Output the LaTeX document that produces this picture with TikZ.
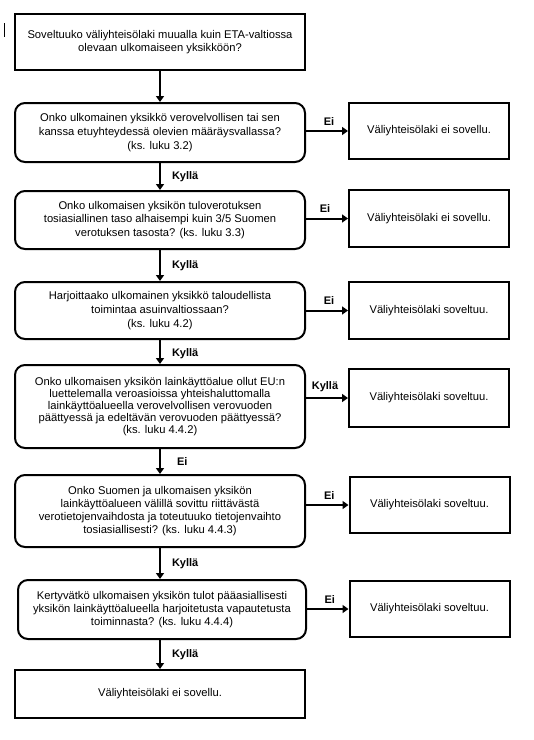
\documentclass[tikz,border=0pt]{standalone}
\usepackage{fontspec}
\setmainfont{Liberation Sans}
\usetikzlibrary{arrows.meta,calc}
\begin{document}
\begin{tikzpicture}[x=1pt,y=-1pt,
  every node/.style={font=\fontsize{11.2}{13}\selectfont, inner sep=0pt},
  qbox/.style={draw, line width=2pt, rounded corners=10pt, align=center, minimum width=290pt},
  rbox/.style={draw, line width=2pt, align=center, minimum width=290pt},
  abox/.style={draw, line width=2pt, align=center, minimum width=160pt},
  conn/.style={line width=2pt, -{Triangle[width=8pt,length=6pt]}},
  lab/.style={font=\bfseries\fontsize{11}{12}\selectfont}
]
\useasboundingbox (0,0) rectangle (534,740);
\draw[line width=0.8pt] (4.5,23) -- (4.5,37);

\node[rbox, minimum height=56pt] (b1) at (160,42) {Soveltuuko väliyhteisölaki muualla kuin ETA-valtiossa\\olevaan ulkomaiseen yksikköön?};
\node[qbox, minimum height=59pt, font=\fontsize{11.2}{13.8}\selectfont] (b2) at (160,132.5) {Onko ulkomainen yksikkö verovelvollisen tai sen\\kanssa etuyhteydessä olevien määräysvallassa?\\(ks. luku 3.2)};
\node[qbox, minimum height=58pt, font=\fontsize{11.2}{13.8}\selectfont] (b3) at (160,220) {Onko ulkomaisen yksikön tuloverotuksen\\tosiasiallinen taso alhaisempi kuin 3/5 Suomen\\verotuksen tasosta? (ks. luku 3.3)};
\node[qbox, minimum height=57pt, font=\fontsize{11.2}{13.8}\selectfont] (b4) at (160,310.5) {Harjoittaako ulkomainen yksikkö taloudellista\\toimintaa asuinvaltiossaan?\\(ks. luku 4.2)};
\node[qbox, minimum height=83pt, font=\fontsize{11.2}{11.8}\selectfont] (b5) at (160,406.5) {Onko ulkomaisen yksikön lainkäyttöalue ollut EU:n\\luettelemalla veroasioissa yhteishaluttomalla\\lainkäyttöalueella verovelvollisen verovuoden\\päättyessä ja edeltävän verovuoden päättyessä?\\(ks. luku 4.4.2)};
\node[qbox, minimum height=72pt] (b6) at (160,511) {Onko Suomen ja ulkomaisen yksikön\\lainkäyttöalueen välillä sovittu riittävästä\\verotietojenvaihdosta ja toteutuuko tietojenvaihto\\tosiasiallisesti? (ks. luku 4.4.3)};
\node[qbox, minimum height=59pt, minimum width=288pt] (b7) at (162,609.5) {Kertyvätkö ulkomaisen yksikön tulot pääasiallisesti\\yksikön lainkäyttöalueella harjoitetusta vapautetusta\\toiminnasta? (ks. luku 4.4.4)};
\node[rbox, minimum height=48pt] (b8) at (160,694) {Väliyhteisölaki ei sovellu.};

\node[abox, minimum height=56pt] (r1) at (429,131) {Väliyhteisölaki ei sovellu.};
\node[abox, minimum height=57pt] (r2) at (429,218.5) {Väliyhteisölaki ei sovellu.};
\node[abox, minimum height=57pt] (r3) at (429,310.5) {Väliyhteisölaki soveltuu.};
\node[abox, minimum height=58pt] (r4) at (429,398) {Väliyhteisölaki soveltuu.};
\node[abox, minimum height=56pt] (r5) at (429.5,505) {Väliyhteisölaki soveltuu.};
\node[abox, minimum height=56pt] (r6) at (429.5,609) {Väliyhteisölaki soveltuu.};

\draw[conn] (b1.south) -- (b2.north);
\draw[conn] (b2.south) -- node[lab, anchor=west, xshift=11pt] {Kyllä} (b3.north);
\draw[conn] (b3.south) -- node[lab, anchor=west, xshift=11pt] {Kyllä} (b4.north);
\draw[conn] (b4.south) -- node[lab, anchor=west, xshift=11pt, yshift=-2pt] {Kyllä} (b5.north);
\draw[conn] (b5.south) -- node[lab, anchor=west, xshift=16pt] {Ei} (b6.north);
\draw[conn] (b6.south) -- node[lab, anchor=west, xshift=11pt] {Kyllä} (b7.north -| b6.south);
\draw[conn] (b7.south -| b6.south) -- node[lab, anchor=west, xshift=11pt] {Kyllä} (b8.north);

\draw[conn] (b2.east |- r1.west) -- node[lab, anchor=south, yshift=5pt, xshift=2pt] {Ei} (r1.west);
\draw[conn] (b3.east |- r2.west) -- node[lab, anchor=south, yshift=5pt, xshift=-2pt] {Ei} (r2.west);
\draw[conn] (b4.east |- r3.west) -- node[lab, anchor=south, yshift=5pt, xshift=2pt] {Ei} (r3.west);
\draw[conn] (b5.east |- r4.west) -- node[lab, anchor=south, yshift=5pt, xshift=-2pt] {Kyllä} (r4.west);
\draw[conn] (b6.east |- r5.west) -- node[lab, anchor=south, yshift=5pt, xshift=2pt] {Ei} (r5.west);
\draw[conn] (b7.east |- r6.west) -- node[lab, anchor=south, yshift=5pt, xshift=2pt] {Ei} (r6.west);
\end{tikzpicture}
\end{document}
